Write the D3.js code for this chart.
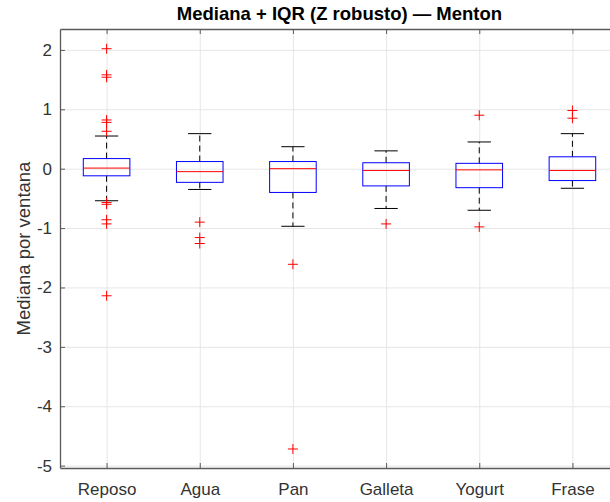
<!DOCTYPE html>
<html>
<head>
<meta charset="utf-8">
<script src="https://cdn.jsdelivr.net/npm/d3@7"></script>
<style>
  body { margin: 0; background: #fff; }
  svg { display: block; font-family: "Liberation Sans", Arial, Helvetica, sans-serif; }
</style>
</head>
<body>
<svg id="chart" width="610" height="502"></svg>
<script>
// données
var categories = ["Reposo", "Agua", "Pan", "Galleta", "Yogurt", "Frase"];
var q1 = [-0.12, -0.23, -0.40, -0.29, -0.32, -0.20];
var medians = [0.01, -0.05, 0.00, -0.03, -0.02, -0.03];
var q3 = [0.17, 0.12, 0.12, 0.10, 0.09, 0.20];
var whiskerLow = [-0.54, -0.35, -0.97, -0.67, -0.70, -0.33];
var whiskerHigh = [0.55, 0.59, 0.37, 0.30, 0.45, 0.59];
var outliers = [
	[2.02, 1.58, 1.54, 0.82, 0.78, 0.63, -0.57, -0.60, -0.86, -0.93, -2.14],
	[-0.90, -1.16, -1.26],
	[-1.61, -4.72],
	[-0.93],
	[0.90, -0.98],
	[0.98, 0.85]
];
var yTicks = [-5, -4, -3, -2, -1, 0, 1, 2];

var svg = d3.select("#chart");
// attention: "top" est réservé (window.top)
var margin = {left: 60, right: 619, top: 29, bottom: 468};
var plotW = margin.right - margin.left, plotH = margin.bottom - margin.top;

var xScale = d3.scaleLinear().domain([0.5, 6.5]).range([margin.left, margin.right]);
var yScale = d3.scaleLinear().domain([-5.04, 2.352]).range([margin.bottom, margin.top]);

var boxes = categories.map(function(c, i){
	return {name: c, pos: i + 1, q1: q1[i], med: medians[i], q3: q3[i],
		lo: whiskerLow[i], hi: whiskerHigh[i], out: outliers[i]};
});

// grille
svg.append("g")
	.attr("transform", `translate(${margin.left},0)`)
	.call(d3.axisLeft(yScale).tickValues(yTicks).tickSize(-plotW).tickFormat(""))
	.call(g => g.select(".domain").remove())
	.call(g => g.selectAll("line").attr("stroke", "#e6e6e6"));
svg.append("g")
	.attr("transform", `translate(0,${margin.bottom})`)
	.call(d3.axisBottom(xScale).tickValues(d3.range(1, 7)).tickSize(-plotH).tickFormat(""))
	.call(g => g.select(".domain").remove())
	.call(g => g.selectAll("line").attr("stroke", "#e6e6e6"));

// moustaches (pointillés)
var gBox = svg.append("g");
gBox.selectAll(".whiskerUp").data(boxes).enter().append("line")
	.attr("x1", d => xScale(d.pos)).attr("x2", d => xScale(d.pos))
	.attr("y1", d => yScale(d.q3)).attr("y2", d => yScale(d.hi))
	.attr("stroke", "#000").attr("stroke-dasharray", "6,4");
gBox.selectAll(".whiskerDown").data(boxes).enter().append("line")
	.attr("x1", d => xScale(d.pos)).attr("x2", d => xScale(d.pos))
	.attr("y1", d => yScale(d.q1)).attr("y2", d => yScale(d.lo))
	.attr("stroke", "#000").attr("stroke-dasharray", "6,4");

// capuchons
var capW = 0.125;
["hi", "lo"].forEach(function(k){
	gBox.selectAll(".cap-" + k).data(boxes).enter().append("line")
		.attr("x1", d => xScale(d.pos - capW)).attr("x2", d => xScale(d.pos + capW))
		.attr("y1", d => yScale(d[k])).attr("y2", d => yScale(d[k]))
		.attr("stroke", "#000");
});

// boîtes
var boxW = 0.25;
gBox.selectAll("rect").data(boxes).enter().append("rect")
	.attr("x", d => xScale(d.pos - boxW))
	.attr("width", d => xScale(d.pos + boxW) - xScale(d.pos - boxW))
	.attr("y", d => yScale(d.q3))
	.attr("height", d => yScale(d.q1) - yScale(d.q3))
	.attr("fill", "none").attr("stroke", "#0000ff");

// médianes
gBox.selectAll(".median").data(boxes).enter().append("line")
	.attr("x1", d => xScale(d.pos - boxW)).attr("x2", d => xScale(d.pos + boxW))
	.attr("y1", d => yScale(d.med)).attr("y2", d => yScale(d.med))
	.attr("stroke", "#ff0000");

// valeurs aberrantes (+)
var pts = [];
boxes.forEach(function(d){ d.out.forEach(function(v){ pts.push({pos: d.pos, v: v}); }); });
var m = 5;
gBox.selectAll(".outlier").data(pts).enter().append("path")
	.attr("d", d => {
		var cx = xScale(d.pos), cy = yScale(d.v);
		return `M${cx - m},${cy}H${cx + m}M${cx},${cy - m}V${cy + m}`;
	})
	.attr("stroke", "#ff0000").attr("fill", "none");

// axes
var axisColor = "#5a5a5a";
var yAxis = svg.append("g")
	.attr("transform", `translate(${margin.left},0)`)
	.call(d3.axisLeft(yScale).tickValues(yTicks).tickFormat(d => String(d))
		.tickSizeInner(-5).tickSizeOuter(0).tickPadding(8))
	.attr("font-size", 17);
var xAxis = svg.append("g")
	.attr("transform", `translate(0,${margin.bottom})`)
	.call(d3.axisBottom(xScale).tickValues(d3.range(1, 7)).tickFormat(i => categories[i - 1])
		.tickSizeInner(-5).tickSizeOuter(0).tickPadding(15))
	.attr("font-size", 17);
var topAxis = svg.append("g")
	.attr("transform", `translate(0,${margin.top})`)
	.call(d3.axisTop(xScale).tickValues(d3.range(1, 7)).tickFormat("")
		.tickSizeInner(-5).tickSizeOuter(0));
[yAxis, xAxis, topAxis].forEach(function(g){
	g.attr("font-family", null);
	g.select(".domain").attr("stroke", axisColor).attr("stroke-width", 1.3);
	g.selectAll("line").attr("stroke", axisColor);
	g.selectAll("text").attr("fill", "#333");
});

// titre et label
svg.append("text")
	.attr("x", (margin.left + margin.right) / 2).attr("y", 20)
	.attr("text-anchor", "middle")
	.attr("font-size", 18.5).attr("font-weight", "bold")
	.text("Mediana + IQR (Z robusto) — Menton");
svg.append("text")
	.attr("transform", `translate(30,${(margin.top + margin.bottom) / 2}) rotate(-90)`)
	.attr("text-anchor", "middle")
	.attr("font-size", 18.5).attr("fill", "#333")
	.text("Mediana por ventana");
</script>
</body>
</html>
